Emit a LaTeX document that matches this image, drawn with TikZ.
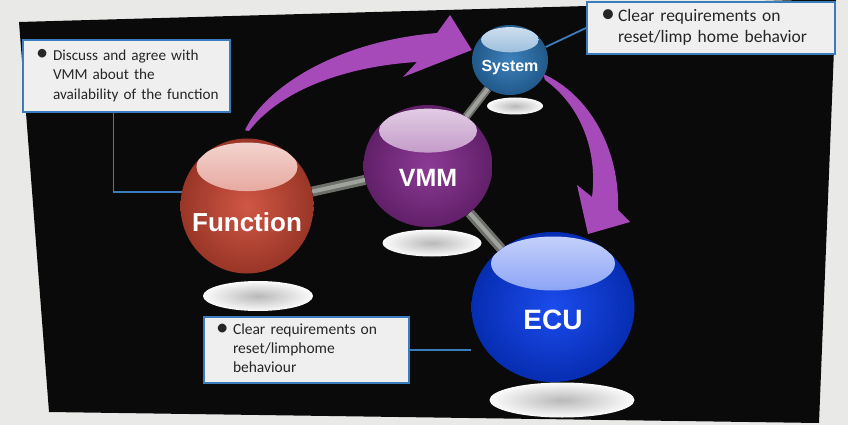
\documentclass[tikz,border=0pt]{standalone}
\usepackage{fontspec}
\setsansfont{Liberation Sans}
\newfontfamily\notefont{Carlito}
\usetikzlibrary{shapes.geometric}
\definecolor{screengray}{RGB}{233,233,231}
\definecolor{notefill}{RGB}{238,239,238}
\definecolor{frameblue}{RGB}{58,124,188}
\definecolor{fnred}{RGB}{204,72,52}
\definecolor{vmmpurple}{RGB}{130,42,140}
\definecolor{sysblue}{RGB}{44,118,182}
\definecolor{ecublue}{RGB}{8,60,236}
\definecolor{arrowpurple}{RGB}{166,74,186}
\definecolor{rodgray}{RGB}{128,131,124}
\newcommand{\notebullet}{\makebox[17pt][l]{\raisebox{-0.5pt}{\scalebox{1.6}{\textbullet}}}}
\pgfdeclarelayer{slide}
\pgfdeclarelayer{behind}
\pgfsetlayers{slide,behind,main}
\begin{document}
\begin{tikzpicture}[x=1pt, y=-1pt,
    sphere/.style n args={3}{ellipse, inner sep=0pt, minimum width=#2pt, minimum height=#3pt,
        inner color=#1!92!white, outer color=#1!75!black,
        path picture={\shade[top color=white!78!#1, bottom color=#1!85!white]
            ([yshift={-0.21*#3pt}]path picture bounding box.north)
            ellipse [x radius={0.38*#2pt}, y radius={0.18*#3pt}];}},
    sphlabel/.style={text=white, inner sep=0pt},
    floor/.style={ellipse, inner sep=0pt, inner color=gray!55, outer color=white!97!gray},
    rod/.style={draw=rodgray!85!black, line width=10pt, postaction={draw=rodgray!75!white, line width=4pt}},
    fatarrow/.style={fill=arrowpurple},
    notebox/.style={draw=frameblue, line width=2pt, fill=notefill, anchor=north west,
        align=left, inner xsep=13pt, inner ysep=0pt, text=black!85},
    callout/.style={draw=frameblue, line width=1.8pt}]
    \useasboundingbox (0,0) rectangle (848,425);
    \begin{pgfonlayer}{slide}
        \fill[screengray] (0,0) rectangle (848,425);
        \fill[black!96] (19,22) -- (836,-1) -- (819,423) -- (49,412) -- cycle;
    \end{pgfonlayer}

    \node[floor, minimum width=110pt, minimum height=30pt] (fnfloor) at (258,296) {};
    \node[floor, minimum width=99pt, minimum height=27pt] (vmmfloor) at (432,243) {};
    \node[floor, minimum width=56pt, minimum height=17pt] (sysfloor) at (515,106) {};
    \node[floor, minimum width=145pt, minimum height=35pt] (ecufloor) at (562,400) {};

    \node[sphere={fnred}{133}{135},
        label={[sphlabel, font=\sffamily\bfseries\fontsize{26}{26}\selectfont, yshift=-16pt]center:Function}]
        (function) at (247,206) {};
    \node[sphere={vmmpurple}{129}{122},
        label={[sphlabel, font=\sffamily\bfseries\fontsize{25}{25}\selectfont, yshift=-12pt]center:VMM}]
        (vmm) at (428,166) {};
    \node[sphere={sysblue}{76}{70},
        label={[sphlabel, font=\sffamily\bfseries\fontsize{16}{16}\selectfont, yshift=-8pt]center:System}]
        (system) at (510,60) {};
    \node[sphere={ecublue}{163}{150},
        label={[sphlabel, font=\sffamily\bfseries\fontsize{28}{28}\selectfont, yshift=-13pt]center:ECU}]
        (ecu) at (553,307) {};

    \node[notebox, minimum width=207pt, minimum height=72pt, text width=181pt,
        font=\notefont\fontsize{15.2}{19.5}\selectfont] (note1) at (22,39)
        {\begin{tabular}{@{}l@{}l@{}}\notebullet & Discuss and agree with\\
            & VMM about the\\ & availability of the function\end{tabular}};
    \node[notebox, inner xsep=14pt, minimum width=248pt, minimum height=52pt, text width=220pt,
        font=\notefont\fontsize{17.5}{20.5}\selectfont] (note2) at (586,1)
        {\begin{tabular}{@{}l@{}l@{}}\notebullet & Clear requirements on\\
            & reset/limp home behavior\end{tabular}};
    \node[notebox, inner xsep=12pt, minimum width=205pt, minimum height=66pt, text width=181pt,
        font=\notefont\fontsize{15.5}{19}\selectfont] (note3) at (203,316)
        {\begin{tabular}{@{}l@{}l@{}}\notebullet & Clear requirements on\\
            & reset/limphome\\ & behaviour\end{tabular}};

    \begin{pgfonlayer}{behind}
        \draw[rod] (function) -- (vmm);
        \draw[rod, line width=8pt] (vmm) -- (system);
        \draw[rod] (vmm) -- (ecu);
        \draw[callout] (function.168) -| ([xshift=-13pt]note1.south);
        \draw[callout] (note2.west) -- (system.20);
        \draw[callout] (note3.east) -- (note3.east -| ecu.west);
        \fill[fatarrow] ([shift={(-2pt,8pt)}]function.north)
            .. controls (262,92) and (330,42) .. (437,33)
            -- (450,15) -- ([yshift=10pt]system.west) -- (403,77) -- (417,62)
            .. controls (350,66) and (282,88) .. (249,131) -- cycle;
        \fill[fatarrow] ([shift={(-5pt,-14pt)}]system.east)
            .. controls (590,95) and (620,150) .. (618,210)
            -- (630,222) -- (588,234) -- (577,185) -- (592,197)
            .. controls (598,150) and (580,105) .. (545,80) -- cycle;
    \end{pgfonlayer}
\end{tikzpicture}
\end{document}
